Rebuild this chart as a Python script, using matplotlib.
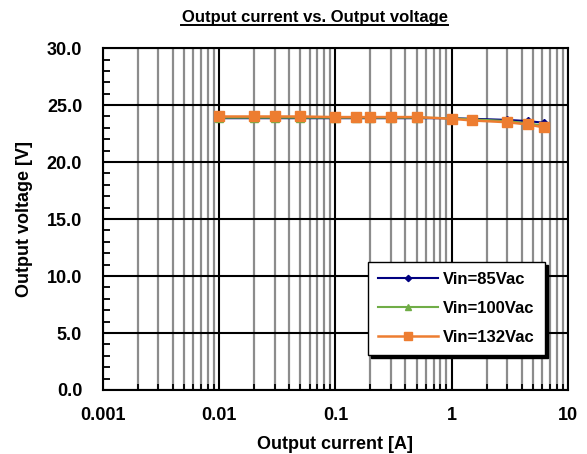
import matplotlib.pyplot as plt
from matplotlib.ticker import FixedLocator, LogLocator, MultipleLocator, NullFormatter

plt.rcParams["font.family"] = ["Liberation Sans", "DejaVu Sans"]
plt.rcParams["font.weight"] = "bold"

# data
current = [0.01, 0.02, 0.03, 0.05, 0.1, 0.15, 0.2, 0.3, 0.5, 1, 1.5, 3, 4.5, 6.2]
v85 = [23.85, 23.85, 23.85, 23.85, 23.85, 23.85, 23.85, 23.85, 23.85, 23.85, 23.8, 23.7, 23.6, 23.45]
v100 = [23.9, 23.9, 23.9, 23.9, 23.9, 23.9, 23.9, 23.9, 23.9, 23.85, 23.75, 23.6, 23.4, 23.2]
v132 = [24.0, 24.0, 24.0, 24.0, 23.95, 23.95, 23.95, 23.95, 23.95, 23.8, 23.65, 23.5, 23.3, 23.05]
xticks = [0.001, 0.01, 0.1, 1, 10]
xlabels = ["0.001", "0.01", "0.1", "1", "10"]

fig = plt.figure(figsize=(5.87, 4.54), dpi=100)
ax = fig.add_axes([0.1755, 0.141, 0.792, 0.753])

ax.set_xscale("log")
ax.set_xlim(0.001, 10)
ax.set_ylim(0, 30)

# grid
ax.xaxis.set_minor_locator(LogLocator(base=10, subs=range(2, 10), numticks=20))
ax.xaxis.set_minor_formatter(NullFormatter())
ax.grid(which="minor", axis="x", color="#8c8c8c", linewidth=1.6)
ax.grid(which="major", axis="x", color="black", linewidth=1.5)
ax.grid(which="major", axis="y", color="black", linewidth=1.5)
ax.set_axisbelow(True)

ax.plot(current, v85, color="#000080", marker="D", markersize=4, linewidth=1.5, label="Vin=85Vac")
ax.plot(current, v100, color="#70AD47", marker="^", markersize=6, linewidth=1.5, label="Vin=100Vac")
ax.plot(current, v132, color="#ED7D31", marker="s", markersize=7, linewidth=1.8, label="Vin=132Vac")

ax.xaxis.set_major_locator(FixedLocator(xticks))
ax.set_xticklabels(xlabels)
ax.yaxis.set_major_locator(MultipleLocator(5))
ax.yaxis.set_minor_locator(MultipleLocator(1))
ax.yaxis.set_major_formatter(plt.FormatStrFormatter("%.1f"))
ax.tick_params(which="both", direction="in", labelsize=13, width=1.3)
ax.tick_params(axis="x", which="major", length=0, pad=12)
ax.tick_params(axis="x", which="minor", length=4)
ax.tick_params(axis="y", which="major", length=5, pad=15)
ax.tick_params(axis="y", which="minor", length=5)
for sp in ax.spines.values():
    sp.set_linewidth(1.5)

ax.set_xlabel("Output current [A]", fontsize=13, fontweight="bold", labelpad=9)
ax.set_ylabel("Output voltage [V]", fontsize=13, fontweight="bold", labelpad=10)
fig.text(0.537, 0.962, "Output current vs. Output voltage", fontsize=12, fontweight="bold",
         ha="center", va="center")
fig.add_artist(plt.Line2D([0.309, 0.763], [0.944, 0.944], color="black", linewidth=1.4))

leg = ax.legend(loc="lower left", bbox_to_anchor=(0.57, 0.102), borderaxespad=0, fontsize=12,
                frameon=True, fancybox=False, shadow={"color": "black", "alpha": 1},
                edgecolor="black", handlelength=3.6, handletextpad=0.3, borderpad=0.6,
                labelspacing=0.85, markerscale=0.8)
leg.get_frame().set_linewidth(1.0)

fig.savefig("out.png", dpi=100)
